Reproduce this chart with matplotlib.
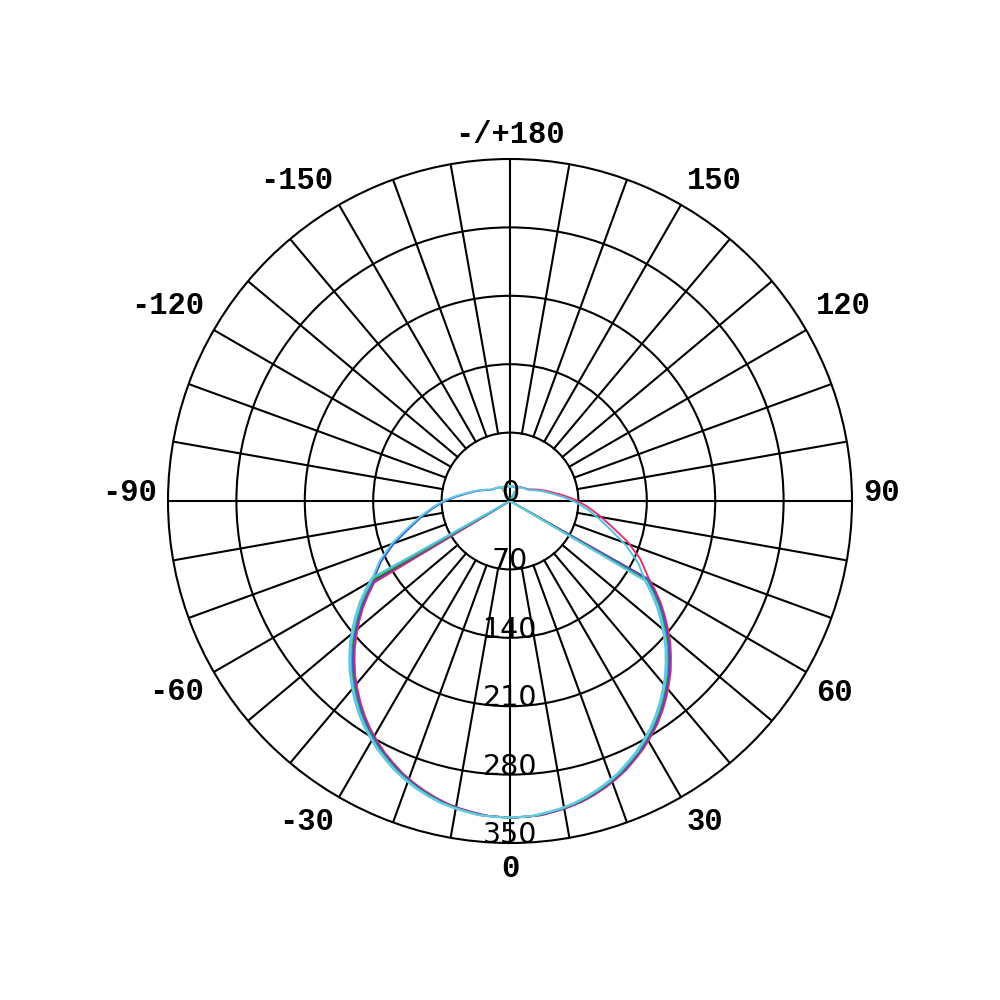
import numpy as np
import matplotlib
matplotlib.use("Agg")
import matplotlib.pyplot as plt
import matplotlib.transforms as mtransforms

# gamma angles (deg from nadir) for one half of a C-plane pair
gamma = [0, 2.5, 5, 7.5, 10, 12.5, 15, 17.5, 20, 22.5, 25, 27.5, 30, 32.5, 35, 37.5, 40,
         42.5, 45, 47.5, 50, 52.5, 55, 57.5, 60,
         65, 70, 75, 80, 85, 90, 95, 100, 105, 110, 115, 120, 125, 130, 135, 140,
         145, 150, 155, 160, 165, 170, 175, 180]

# main lobe, the same for every plane up to 60 deg
main_lobe = [324, 323.5, 323, 321, 319, 316.5, 313, 309, 304.5, 299.5, 293.5, 287.5, 280.5,
             273.5, 265.5, 257, 248, 239, 229, 219, 208, 197, 186, 174, 162]

# half-plane that keeps going past 60 deg
outer_tail = [146, 127, 107, 92, 79, 67, 55, 45, 38, 32, 27, 23, 21, 20, 19, 18,
              17, 16, 16, 15, 15, 15, 15, 15]

# half-plane with the sharp cut-off after 60 deg
cut_tail = [0, 0, 0, 0, 0, 0, 0, 0, 0, 0, 0, 0, 0, 0, 0, 0,
            0, 16, 16, 15, 15, 15, 15, 15]

# one entry per plotted C-plane pair
series_colors = ["#e8336b", "#7b3f9e", "#3b5bd6", "#44b649", "#4fc3e8", "#66ccdd"]
left_kind = ["cut", "cut", "outer", "cut", "cut", "outer"]
right_kind = ["outer", "cut", "cut", "cut", "outer", "cut"]
series_tilt = [1.0, 0.6, 0.2, -0.3, -0.9, -0.6]   # small rotation of each plane, deg

radial_ticks = [70, 140, 210, 280, 350]
radial_labels = ["0", "70", "140", "210", "280", "350"]
angle_ticks = [0, 30, 60, 90, 120, 150, 180, -150, -120, -90, -60, -30]
angle_labels = ["0", "30", "60", "90", "120", "150", "-/+180", "-150", "-120", "-90", "-60", "-30"]

profiles = {"outer": main_lobe + outer_tail, "cut": main_lobe + cut_tail}

fig = plt.figure(figsize=(10, 10), dpi=100)
ax = fig.add_axes([0.168, 0.157, 0.684, 0.684], projection="polar")
ax.set_theta_zero_location("S")
ax.set_theta_direction(1)
ax.set_ylim(0, 350)

# grid: circles from the radial axis, spokes drawn by hand
ax.set_yticks(radial_ticks[:-1])
ax.set_yticklabels([])
ax.set_xticks([])
ax.xaxis.grid(False)
ax.yaxis.grid(True, color="black", linewidth=1.5)
ax.spines["polar"].set_color("black")
ax.spines["polar"].set_linewidth(1.5)

for a in range(0, 360, 10):
    r0 = 0 if a % 90 == 0 else 70
    ax.plot([np.deg2rad(a)] * 2, [r0, 350], color="black", linewidth=1.5, zorder=1)

# the curves
g = np.array(gamma, dtype=float)
for i, col in enumerate(series_colors):
    left = np.array(profiles[left_kind[i]], dtype=float)
    right = np.array(profiles[right_kind[i]], dtype=float)
    theta = np.deg2rad(np.concatenate([-g[::-1], g[1:]]) + series_tilt[i])
    r = np.concatenate([left[::-1], right[1:]])
    ax.plot(theta, r, color=col, linewidth=1.4, zorder=2 + i * 0.1)

# radial labels along the nadir axis
for rv, lab in zip([0] + radial_ticks, radial_labels):
    ax.text(0, rv, lab, ha="center", va="baseline", fontsize=20.5,
            family="DejaVu Sans", zorder=5)

# angle labels just outside the rim
for a, lab in zip(angle_ticks, angle_labels):
    s, c = np.sin(np.deg2rad(a)), np.cos(np.deg2rad(a))
    ha = "left" if s > 0.01 else ("right" if s < -0.01 else "center")
    if c > 0.01:
        va, dy = "top", -11 * c
    elif c < -0.01:
        va, dy = "baseline", 16
    else:
        va, dy = "baseline", 0
    tr = mtransforms.offset_copy(ax.transData, fig=fig, x=11 * s, y=dy, units="dots")
    ax.text(np.deg2rad(a), 350, lab, transform=tr, ha=ha, va=va,
            fontsize=22, family="Liberation Mono", weight="bold", clip_on=False)

fig.savefig("out.png", dpi=100, facecolor="white")
